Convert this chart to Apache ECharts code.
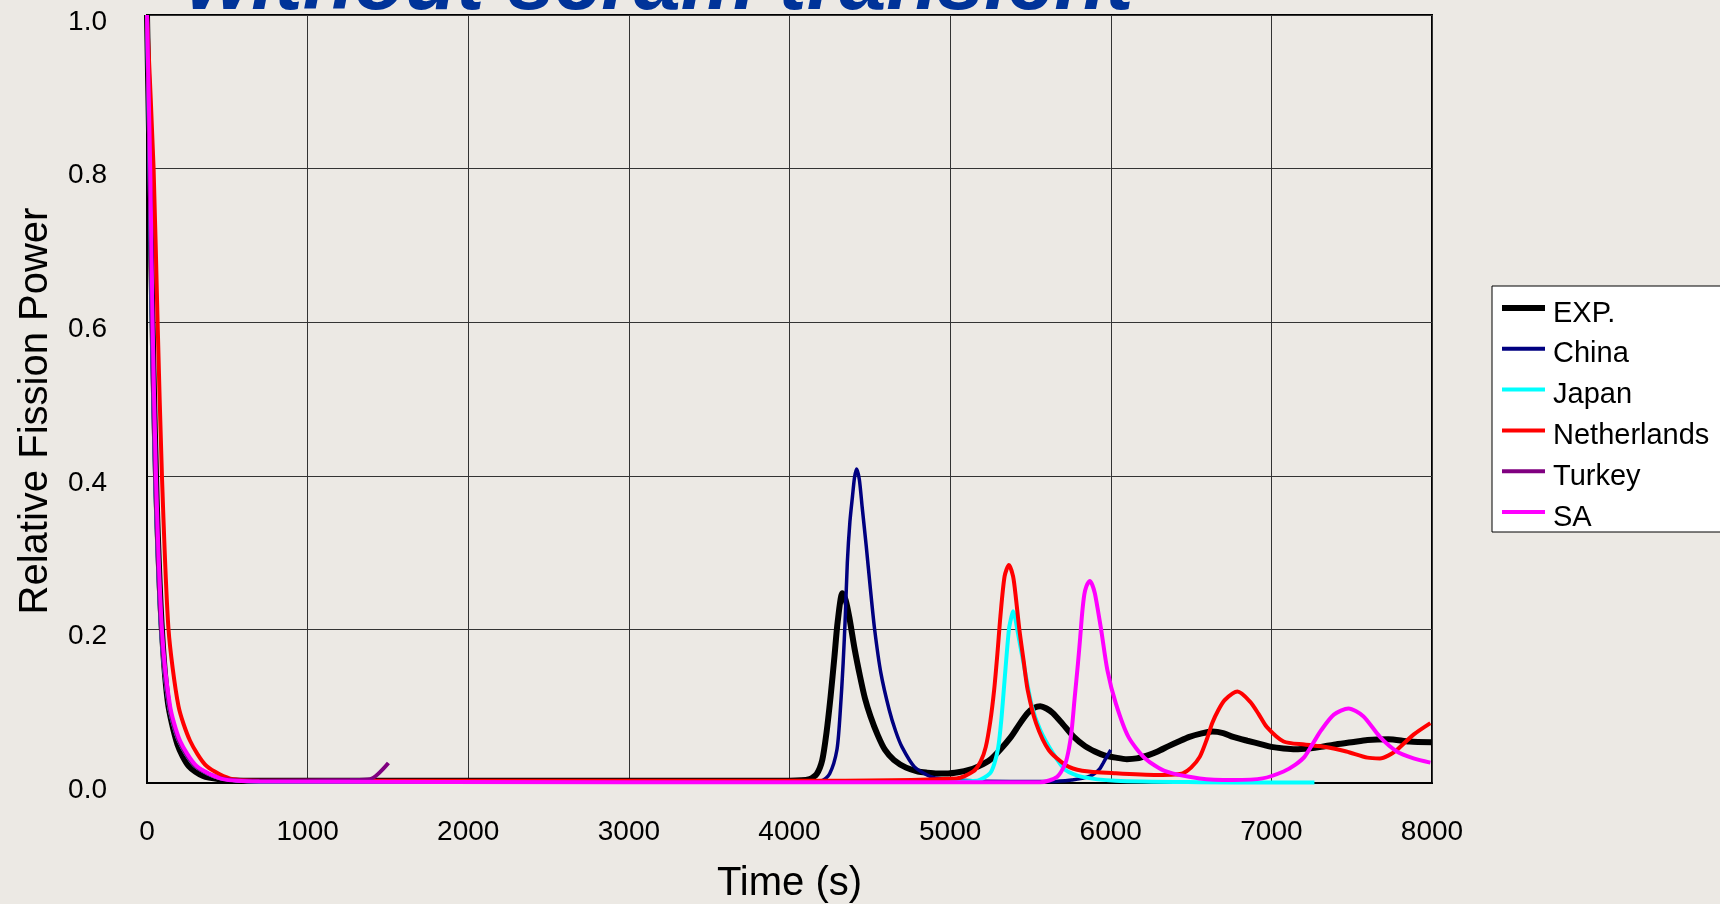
<!DOCTYPE html>
<html>
<head>
<meta charset="utf-8">
<script src="https://cdn.jsdelivr.net/npm/echarts@6/dist/echarts.min.js"></script>
<style>
html,body{margin:0;padding:0;background:#ECE9E4;}
#chart{width:1720px;height:904px;}
</style>
</head>
<body>
<div id="chart"></div>
<script>
var titleText = 'without scram transient';
var xTicks = [0, 1000, 2000, 3000, 4000, 5000, 6000, 7000, 8000];
var yTicks = [0, 0.2, 0.4, 0.6, 0.8, 1.0];

var seriesNames = ['EXP.', 'China', 'Japan', 'Netherlands', 'Turkey', 'SA'];

var expT = [0, 20, 40, 60, 90, 130, 190, 260, 350, 450, 600, 800, 1500, 2500, 3500, 4000, 4125, 4170, 4204, 4230, 4256, 4280, 4300, 4329, 4350, 4373, 4405, 4439, 4470, 4504, 4550, 4595, 4650, 4726, 4800, 4856, 4920, 4987, 5050, 5117, 5180, 5248, 5310, 5379, 5430, 5483, 5525, 5561, 5600, 5640, 5700, 5770, 5840, 5901, 5960, 6031, 6100, 6162, 6230, 6292, 6360, 6423, 6490, 6554, 6632, 6700, 6762, 6850, 6945, 7000, 7076, 7150, 7232, 7310, 7389, 7500, 7598, 7728, 7859, 8000];
var expV = [1.0, 0.76, 0.54, 0.37, 0.21, 0.105, 0.05, 0.022, 0.009, 0.005, 0.003, 0.003, 0.003, 0.003, 0.003, 0.003, 0.005, 0.012, 0.03, 0.065, 0.113, 0.165, 0.21, 0.247, 0.238, 0.215, 0.175, 0.139, 0.11, 0.087, 0.062, 0.043, 0.03, 0.02, 0.015, 0.0135, 0.0125, 0.0125, 0.014, 0.017, 0.022, 0.03, 0.043, 0.06, 0.076, 0.091, 0.098, 0.1, 0.097, 0.091, 0.077, 0.06, 0.048, 0.041, 0.036, 0.033, 0.031, 0.032, 0.036, 0.041, 0.048, 0.054, 0.06, 0.064, 0.067, 0.065, 0.06, 0.055, 0.05, 0.047, 0.045, 0.044, 0.045, 0.047, 0.05, 0.053, 0.056, 0.057, 0.054, 0.053];

var chinaT = [0, 16, 30, 50, 87, 137, 198, 300, 460, 700, 2000, 4000, 4200, 4250, 4295, 4315, 4334, 4348, 4360, 4376, 4392, 4405, 4418, 4435, 4452, 4478, 4504, 4530, 4569, 4621, 4660, 4700, 4778, 4883, 5039, 5379, 5640, 5760, 5822, 5870, 5901, 5930, 5953, 5975, 6000];
var chinaV = [1.0, 0.8, 0.6, 0.4, 0.2, 0.1, 0.055, 0.022, 0.006, 0.002, 0.002, 0.002, 0.003, 0.012, 0.043, 0.09, 0.156, 0.22, 0.287, 0.34, 0.373, 0.398, 0.409, 0.395, 0.36, 0.308, 0.252, 0.2, 0.143, 0.095, 0.068, 0.047, 0.021, 0.008, 0.004, 0.002, 0.002, 0.004, 0.006, 0.009, 0.0126, 0.018, 0.026, 0.034, 0.043];

var japanT = [0, 16, 30, 50, 87, 137, 198, 300, 460, 700, 3000, 5000, 5170, 5248, 5275, 5300, 5320, 5339, 5366, 5380, 5392, 5405, 5418, 5457, 5509, 5561, 5640, 5718, 5822, 6031, 6554, 7000, 7268];
var japanV = [1.0, 0.8, 0.6, 0.4, 0.2, 0.1, 0.055, 0.022, 0.006, 0.002, 0.002, 0.002, 0.003, 0.0126, 0.025, 0.047, 0.085, 0.134, 0.2, 0.215, 0.2235, 0.215, 0.2, 0.156, 0.1, 0.069, 0.039, 0.017, 0.008, 0.003, 0.001, 0.0005, 0.0005];

var nethT = [0, 41, 66, 93, 134, 196, 268, 371, 536, 800, 2000, 4000, 5039, 5144, 5190, 5222, 5250, 5274, 5295, 5313, 5339, 5366, 5392, 5410, 5431, 5457, 5483, 5535, 5614, 5718, 5822, 6031, 6292, 6400, 6449, 6500, 6554, 6600, 6632, 6670, 6710, 6789, 6867, 6920, 6971, 7076, 7206, 7337, 7467, 7598, 7676, 7730, 7781, 7885, 7990];
var nethV = [1.0, 0.8, 0.6, 0.4, 0.2, 0.1, 0.055, 0.022, 0.005, 0.003, 0.003, 0.003, 0.006, 0.015, 0.028, 0.047, 0.08, 0.121, 0.17, 0.217, 0.269, 0.284, 0.269, 0.24, 0.2, 0.16, 0.121, 0.078, 0.043, 0.0235, 0.016, 0.0126, 0.0104, 0.011, 0.0126, 0.02, 0.034, 0.058, 0.078, 0.095, 0.108, 0.119, 0.106, 0.09, 0.073, 0.054, 0.05, 0.047, 0.041, 0.033, 0.032, 0.036, 0.043, 0.063, 0.078];

var turkeyT = [0, 16, 30, 50, 87, 137, 198, 300, 460, 700, 1264, 1389, 1503];
var turkeyV = [1.0, 0.8, 0.6, 0.4, 0.2, 0.1, 0.055, 0.022, 0.006, 0.003, 0.004, 0.005, 0.026];

var saT = [0, 20, 35, 56, 93, 144, 206, 309, 474, 700, 3000, 5561, 5666, 5718, 5740, 5757, 5775, 5796, 5810, 5822, 5835, 5848, 5869, 5885, 5901, 5920, 5940, 5979, 6031, 6110, 6214, 6345, 6554, 6762, 6945, 7076, 7150, 7206, 7260, 7311, 7389, 7480, 7572, 7676, 7781, 7885, 7990];
var saV = [1.0, 0.8, 0.6, 0.4, 0.2, 0.1, 0.055, 0.022, 0.005, 0.002, 0.001, 0.001, 0.008, 0.026, 0.045, 0.069, 0.11, 0.156, 0.19, 0.221, 0.245, 0.256, 0.263, 0.258, 0.247, 0.225, 0.2, 0.147, 0.104, 0.06, 0.032, 0.015, 0.006, 0.004, 0.006, 0.015, 0.024, 0.034, 0.052, 0.069, 0.089, 0.097, 0.087, 0.06, 0.041, 0.032, 0.0265];

var colors = ['#000000', '#000080', '#00FFFF', '#FF0000', '#800080', '#FF00FF'];
var widths = [6, 3.5, 4, 4, 4, 4];

function pairs(t, v) { return t.map(function (x, i) { return [x, v[i]]; }); }
var allData = [pairs(expT, expV), pairs(chinaT, chinaV), pairs(japanT, japanV), pairs(nethT, nethV), pairs(turkeyT, turkeyV), pairs(saT, saV)];

var FONT = 'Liberation Sans, Arial, sans-serif';
var chart = echarts.init(document.getElementById('chart'), null, { renderer: 'canvas' });
var option = {
  backgroundColor: '#ECE9E4',
  animation: false,
  graphic: [{
    type: 'text',
    x: 186,
    y: 28,
    z: 100,
    style: {
      text: titleText,
      font: 'italic bold 84px ' + FONT,
      fill: '#003399',
      verticalAlign: 'bottom',
      align: 'left'
    }
  }],
  grid: { left: 147, top: 15, right: 288, bottom: 121, outerBoundsMode: 'none', containLabel: false, show: true, borderColor: '#000', borderWidth: 2, backgroundColor: 'transparent' },
  legend: {
    orient: 'vertical',
    left: 1492,
    top: 286,
    backgroundColor: '#FFFFFF',
    borderColor: '#000',
    borderWidth: 1,
    borderRadius: 0,
    padding: [2, 60, 0, 10],
    itemGap: 0.8,
    itemWidth: 43,
    itemHeight: 14,
    symbolKeepAspect: true,
    formatter: function (n) { return '{a|' + n + '}'; },
    textStyle: {
      fontFamily: FONT, fontSize: 29, color: '#000', lineHeight: 28,
      rich: { a: { fontFamily: FONT, fontSize: 29, color: '#000', lineHeight: 28, padding: [11, 0, 0, 3] } }
    },
    data: seriesNames.map(function (n, i) {
      var h = widths[i] >= 5 ? 6 : 4;
      return { name: n, icon: 'path://M0,0L43,0L43,' + h + 'L0,' + h + 'Z', itemStyle: { color: colors[i] } };
    })
  },
  xAxis: {
    type: 'value', min: 0, max: 8000, interval: 1000,
    name: 'Time (s)', nameLocation: 'middle', nameGap: 81,
    nameTextStyle: { fontFamily: FONT, fontSize: 40, color: '#000' },
    axisLine: { show: true, onZero: false, lineStyle: { color: '#000', width: 2 } },
    axisTick: { show: false },
    axisLabel: { fontFamily: FONT, fontSize: 28, color: '#000', margin: 35, formatter: function (v) { return String(v); } },
    splitLine: { show: true, lineStyle: { color: '#333', width: 1 } }
  },
  yAxis: {
    type: 'value', min: 0, max: 1, interval: 0.2,
    name: 'Relative Fission Power', nameLocation: 'middle', nameGap: 91,
    nameTextStyle: { fontFamily: FONT, fontSize: 40, color: '#000', padding: [0, 24, 0, 0] },
    axisLine: { show: true, lineStyle: { color: '#000', width: 2 } },
    axisTick: { show: false },
    axisLabel: { fontFamily: FONT, fontSize: 28, color: '#000', margin: 40, verticalAlign: 'top', lineHeight: 14, formatter: function (v) { return v.toFixed(1); } },
    splitLine: { show: true, lineStyle: { color: '#333', width: 1 } }
  },
  series: seriesNames.map(function (n, i) {
    return {
      name: n, type: 'line', data: allData[i], symbol: 'none', smooth: 0.25,
      clip: true,
      lineStyle: { color: colors[i], width: widths[i] },
      itemStyle: { color: colors[i] },
      z: 2 + i
    };
  })
};
chart.setOption(option);
</script>
</body>
</html>
